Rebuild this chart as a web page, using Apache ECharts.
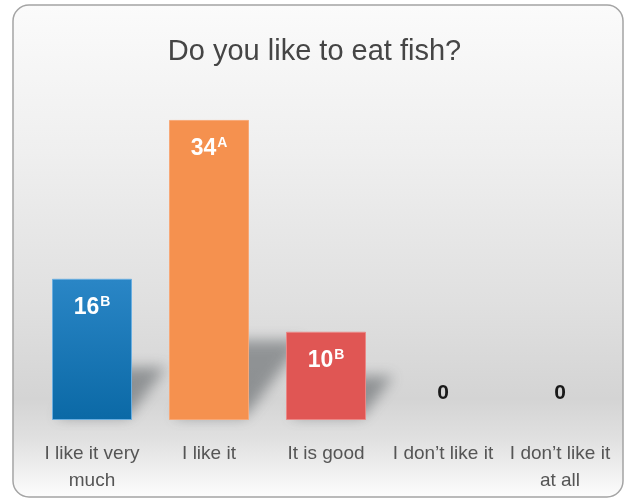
<!DOCTYPE html>
<html>
<head>
<meta charset="utf-8">
<script src="https://cdn.jsdelivr.net/npm/echarts@6/dist/echarts.min.js"></script>
<style>
  html, body { margin: 0; padding: 0; background: #ffffff; }
  #chart { width: 629px; height: 500px; }
</style>
</head>
<body>
<div id="chart"></div>
<script>
// Survey answers and counts
const categories = ['I like it very\nmuch', 'I like it', 'It is good', 'I don\u2019t like it', 'I don\u2019t like it\nat all'];
const counts = [16, 34, 10, 0, 0];
const groupLetters = ['B', 'A', 'B', '', ''];
const titleText = 'Do you like to eat fish?';

const barFills = [
  new echarts.graphic.LinearGradient(0, 0, 0, 1, [
    { offset: 0, color: '#2a86c6' }, { offset: 1, color: '#0b69a6' }
  ]),
  '#f5914f',
  '#e05654',
  'rgba(0,0,0,0)',
  'rgba(0,0,0,0)'
];
const barEdges = ['#6aaee0', '#f7a877', '#ea8886', 'rgba(0,0,0,0)', 'rgba(0,0,0,0)'];

const chart = echarts.init(document.getElementById('chart'), null, { renderer: 'canvas' });

// the shadow shape is drawn off to the left and only its blurred canvas shadow is shifted back
const SHIFT = 1500;

const option = {
  animation: false,
  backgroundColor: '#ffffff',
  graphic: [{
    type: 'rect',
    z: -10,
    shape: { x: 13, y: 5, width: 610, height: 492, r: 16 },
    style: {
      fill: new echarts.graphic.LinearGradient(0, 0, 0, 1, [
        { offset: 0, color: '#fbfbfb' },
        { offset: 0.3, color: '#efefef' },
        { offset: 0.6, color: '#e0e0e0' },
        { offset: 0.8, color: '#d4d4d4' },
        { offset: 0.88, color: '#e0e0e0' },
        { offset: 1, color: '#fdfdfd' }
      ]),
      stroke: '#a4a4a4',
      lineWidth: 1.5
    }
  }],
  title: {
    text: titleText,
    left: 'center',
    top: 32,
    textStyle: {
      fontFamily: 'Liberation Sans, Arial, sans-serif',
      fontSize: 29,
      fontWeight: 'normal',
      color: '#454545'
    }
  },
  grid: { left: 33.5, right: 10.5, top: 67, bottom: 80 },
  xAxis: {
    type: 'category',
    data: categories,
    axisLine: { show: false },
    axisTick: { show: false },
    axisLabel: {
      interval: 0,
      margin: 20,
      fontFamily: 'Liberation Sans, Arial, sans-serif',
      fontSize: 19,
      lineHeight: 27,
      color: '#555555'
    }
  },
  yAxis: {
    type: 'value',
    min: 0,
    max: 40,
    show: false,
    splitLine: { show: false }
  },
  series: [
    {
      // soft cast shadow behind each bar, falling back and to the right
      type: 'custom',
      z: 1,
      silent: true,
      clip: false,
      data: counts.map((v, i) => [i, v]),
      renderItem: function (params, api) {
        const value = api.value(1);
        if (!value) return null;
        const top = api.coord([api.value(0), value]);
        const base = api.coord([api.value(0), 0]);
        const h = base[1] - top[1];
        const half = 36;
        const s = 20 + h * 0.13;
        const xl = base[0] - half - SHIFT, xr = base[0] + half - SHIFT, yb = base[1] - 3;
        return {
          type: 'polygon',
          shape: {
            points: [[xl, yb], [xr, yb], [xr + s, yb - s * 1.3], [xl + s, yb - s * 1.3]]
          },
          style: {
            fill: 'rgba(70,76,80,1)',
            shadowColor: 'rgba(70,76,80,0.5)',
            shadowBlur: 14,
            shadowOffsetX: SHIFT,
            shadowOffsetY: 0
          }
        };
      }
    },
    {
      type: 'bar',
      z: 3,
      barWidth: 80,
      data: counts.map((v, i) => ({
        value: v,
        itemStyle: { color: barFills[i], borderColor: barEdges[i], borderWidth: v > 0 ? 1 : 0 },
        label: v > 0 ? {
          position: 'insideTop',
          distance: 16,
          formatter: '{v|' + v + '}{s|' + groupLetters[i] + '}'
        } : {
          position: 'top',
          distance: 16,
          formatter: '{z|' + v + '}'
        }
      })),
      label: {
        show: true,
        rich: {
          v: { fontFamily: 'Liberation Sans, Arial, sans-serif', fontSize: 23, fontWeight: 'bold', color: '#ffffff' },
          s: { fontFamily: 'Liberation Sans, Arial, sans-serif', fontSize: 14, fontWeight: 'bold', color: '#ffffff', padding: [0, 0, 12, 1] },
          z: { fontFamily: 'Liberation Sans, Arial, sans-serif', fontSize: 21, fontWeight: 'bold', color: '#1a1a1a' }
        }
      }
    }
  ]
};

chart.setOption(option);
</script>
</body>
</html>
